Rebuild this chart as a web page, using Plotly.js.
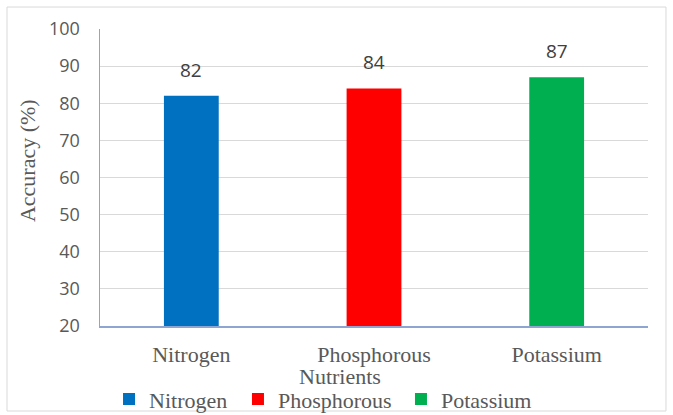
<!DOCTYPE html>
<html>
<head>
<meta charset="utf-8">
<script src="https://cdn.plot.ly/plotly-3.0.1.min.js"></script>
<style>
  html, body { margin: 0; padding: 0; background: #ffffff; }
  #chart { width: 673px; height: 415px; }
</style>
</head>
<body>
<div id="chart"></div>
<script>
// Prediction accuracy per soil nutrient
const nutrients = ['Nitrogen', 'Phosphorous', 'Potassium'];
const accuracy = [82, 84, 87];
const barColors = ['#0070C0', '#FF0000', '#00B050'];
const yTicks = [20, 30, 40, 50, 60, 70, 80, 90, 100];
const yTitle = 'Accuracy (%)';
const xTitle = 'Nutrients';

const serif = 'Liberation Serif';
const sans = 'Open Sans';
const grey = '#595959';

// each nutrient gets its own legend box so the entries can be spaced freely
const legendIds = ['legend', 'legend2', 'legend3'];
const legendX = [0.162, 0.3536, 0.5958];

const traces = nutrients.map((name, i) => ({
  type: 'bar',
  name: name,
  x: [name],
  y: [accuracy[i]],
  width: 0.3,
  marker: { color: barColors[i] },
  legend: legendIds[i],
  hoverinfo: 'x+y'
}));

// value labels above each bar
const valueLabels = nutrients.map((name, i) => ({
  x: name,
  y: accuracy[i],
  xref: 'x',
  yref: 'y',
  text: String(accuracy[i]),
  showarrow: false,
  yanchor: 'bottom',
  yshift: 11,
  font: { family: sans, size: 19, color: '#404040' }
}));

// vertical axis title, sitting a little above the plot's midline
const yTitleLabel = {
  xref: 'paper', yref: 'paper',
  x: -0.131, y: 0.556,
  xanchor: 'center', yanchor: 'middle',
  textangle: -90,
  text: yTitle,
  showarrow: false,
  font: { family: serif, size: 22, color: grey }
};

// category axis title, tucked between the tick labels and the legend
const xTitleLabel = {
  xref: 'paper', yref: 'paper',
  x: 0.438, y: -0.171,
  xanchor: 'center', yanchor: 'middle',
  text: xTitle,
  showarrow: false,
  font: { family: serif, size: 22, color: grey }
};

const layout = {
  width: 673,
  height: 415,
  margin: { l: 100, r: 25, t: 29, b: 89, autoexpand: false },
  font: { family: serif, size: 22, color: grey },
  paper_bgcolor: '#ffffff',
  plot_bgcolor: '#ffffff',
  barmode: 'overlay',
  showlegend: true,
  xaxis: {
    type: 'category',
    categoryorder: 'array',
    categoryarray: nutrients,
    showline: true,
    linecolor: '#8EA4D2',
    linewidth: 1.5,
    showgrid: false,
    ticks: '',
    ticklabelstandoff: 8,
    tickfont: { family: serif, size: 22, color: grey },
    automargin: false,
    fixedrange: true
  },
  yaxis: {
    range: [20, 100],
    tickvals: yTicks,
    ticktext: yTicks.map(String),
    showline: true,
    linecolor: '#8EA4D2',
    linewidth: 1.5,
    showgrid: true,
    gridcolor: '#D9D9D9',
    gridwidth: 1,
    zeroline: false,
    ticks: '',
    ticklabelstandoff: 15,
    tickfont: { family: sans, size: 18, color: grey },
    automargin: false,
    fixedrange: true
  },
  annotations: valueLabels.concat([yTitleLabel, xTitleLabel]),
  shapes: [{
    // thin frame around the whole chart
    type: 'rect',
    xref: 'paper', yref: 'paper',
    x0: -0.1697, x1: 1.0328,
    y0: -0.2862, y1: 1.074,
    line: { color: '#D9D9D9', width: 1 },
    fillcolor: 'rgba(0,0,0,0)',
    layer: 'below'
  }]
};

legendIds.forEach((id, i) => {
  layout[id] = {
    orientation: 'h',
    xref: 'container',
    yref: 'container',
    x: legendX[i],
    xanchor: 'left',
    y: 0.038,
    yanchor: 'middle',
    font: { family: serif, size: 22, color: grey },
    bgcolor: 'rgba(0,0,0,0)'
  };
});

Plotly.newPlot('chart', traces, layout, { displayModeBar: false, staticPlot: true });
</script>
</body>
</html>
